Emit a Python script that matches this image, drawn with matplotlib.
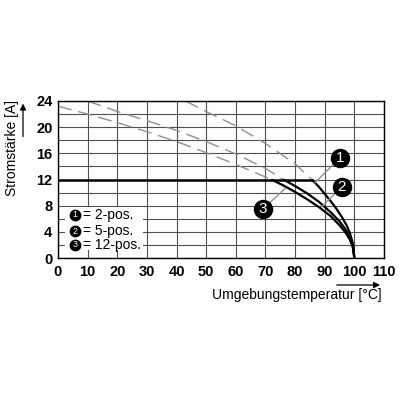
import matplotlib.pyplot as plt
from matplotlib.patches import Rectangle

plt.rcParams['font.family'] = ['Liberation Sans', 'DejaVu Sans']

# derating curves: (temperature, current)
c1_dash_t = [43, 50, 60, 70, 80, 85.6]
c1_dash_i = [24, 22.4, 20.2, 17.5, 14.4, 12]
c1_t = [85.6, 88, 90, 92, 94, 96, 97.5, 98.5, 99.5, 100]
c1_i = [12, 10.9, 9.8, 8.7, 7.5, 6.1, 4.9, 3.8, 2.2, 0]

c2_dash_t = [10, 20, 30, 40, 50, 60, 70, 76]
c2_dash_i = [24, 22.4, 21.0, 19.5, 17.8, 15.9, 13.7, 12]
c2_t = [76, 80, 84, 88, 92, 95, 97, 98.5, 99.5, 100]
c2_i = [12, 11.0, 9.9, 8.6, 7.0, 5.6, 4.4, 3.1, 1.7, 0]

c3_dash_t = [0, 10, 20, 30, 40, 50, 60, 72]
c3_dash_i = [23.2, 22.0, 20.7, 19.3, 17.8, 16.1, 14.3, 12]
c3_t = [72, 76, 80, 84, 88, 92, 95, 97, 98.5, 99.5, 100]
c3_i = [12, 11.1, 10.1, 9.0, 7.8, 6.4, 5.0, 3.9, 2.8, 1.6, 0]

flat_t = [0, 85.6]
flat_i = [12, 12]

x_ticks = list(range(0, 111, 10))
y_ticks = list(range(0, 25, 4))
y_grid = list(range(0, 25, 2))

labels = ["1", "2", "3"]
legend_text = ["= 2-pos.", "= 5-pos.", "= 12-pos."]
# callout circle position and the point its leader line ends at
callout_xy = [(95.1, 15.3), (95.8, 10.9), (69.2, 7.5)]
leader_end = [(86.7, 11.5), (89.1, 7.9), (76.6, 10.6)]

fig = plt.figure(figsize=(4, 4), dpi=100)
ax = fig.add_axes([0.145, 0.355, 0.815, 0.3925])

ax.set_xlim(0, 110)
ax.set_ylim(0, 24)
ax.set_xticks(x_ticks)
ax.set_yticks(y_ticks)
ax.set_yticks(y_grid, minor=True)
ax.tick_params(which='both', length=0)
ax.tick_params(axis='y', pad=4)
ax.tick_params(axis='x', pad=5)
for lab in ax.get_xticklabels() + ax.get_yticklabels():
    lab.set_fontweight('bold')
    lab.set_fontsize(10.5)
ax.xaxis.grid(True, which='major', color='#505050', linewidth=0.8)
ax.yaxis.grid(True, which='both', color='#505050', linewidth=0.8)
ax.set_axisbelow(True)
for s in ax.spines.values():
    s.set_linewidth(1)

dash = dict(color='#909090', linewidth=1, dashes=(10, 5))
ax.plot(c1_dash_t, c1_dash_i, **dash)
ax.plot(c2_dash_t, c2_dash_i, **dash)
ax.plot(c3_dash_t, c3_dash_i, **dash)

ax.plot(flat_t, flat_i, color='black', linewidth=1.8)
for t, i in [(c1_t, c1_i), (c2_t, c2_i), (c3_t, c3_i)]:
    ax.plot(t, i, color='black', linewidth=1.6, solid_capstyle='butt')

for (cx, cy), (ex, ey), lab in zip(callout_xy, leader_end, labels):
    ax.plot([cx, ex], [cy, ey], color='#909090', linewidth=1, zorder=4)
    ax.plot(cx, cy, 'o', color='black', markersize=13, zorder=5)
    ax.text(cx, cy, lab, color='white', ha='center', va='center',
            fontsize=11, zorder=6)

# legend box
ax.add_patch(Rectangle((2.4, 1.2), 26.3, 6.6, facecolor='white',
                       edgecolor='none', zorder=3))
leg_y = [6.6, 4.1, 2.0]
for y, lab, txt in zip(leg_y, labels, legend_text):
    ax.plot(5.7, y, 'o', color='black', markersize=7.5, zorder=5)
    ax.text(5.7, y, lab, color='white', ha='center', va='center',
            fontsize=6.5, zorder=6)
    ax.text(8.3, y, txt, ha='left', va='center', fontsize=10, zorder=6)

fig.text(0.03, 0.63, "Stromstärke [A]", rotation=90, ha='center',
         va='center', fontsize=10)
fig.text(0.955, 0.262, "Umgebungstemperatur [°C]", ha='right',
         va='center', fontsize=10)
ax.annotate('', xy=(0.0575, 0.748), xytext=(0.0575, 0.652),
            xycoords='figure fraction',
            arrowprops=dict(arrowstyle='-|>', color='black', lw=0.9,
                            mutation_scale=9))
ax.annotate('', xy=(0.957, 0.2875), xytext=(0.835, 0.2875),
            xycoords='figure fraction',
            arrowprops=dict(arrowstyle='-|>', color='black', lw=0.9,
                            mutation_scale=9))

fig.savefig('out.png', dpi=100)
